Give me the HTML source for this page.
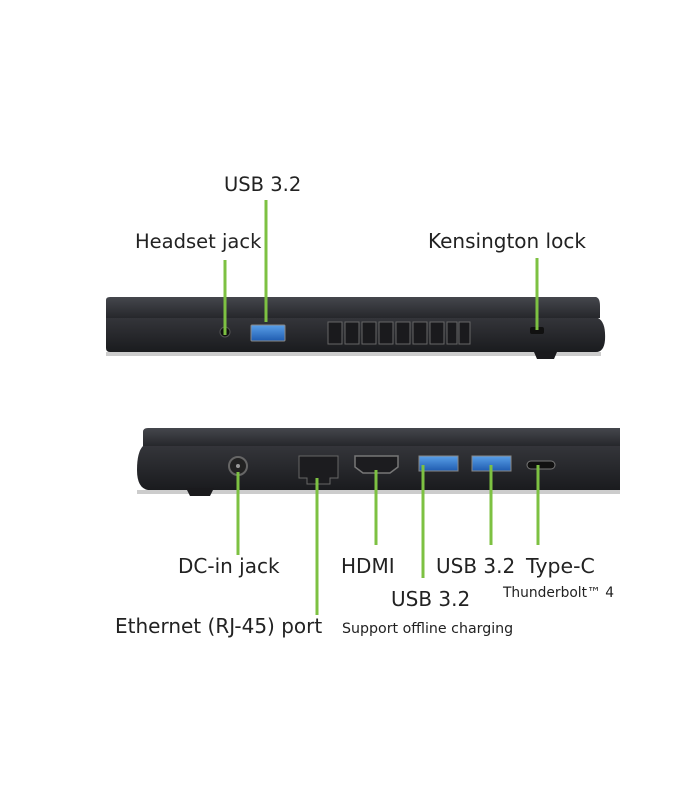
<!DOCTYPE html>
<html><head><meta charset="utf-8"><style>
html,body{margin:0;padding:0;background:#fff;width:700px;height:800px;overflow:hidden}
text{font-family:"DejaVu Sans","Liberation Sans",sans-serif;fill:#222}
</style></head><body>
<svg width="700" height="800" viewBox="0 0 700 800">
<defs>
<linearGradient id="lid" x1="0" y1="0" x2="0" y2="1"><stop offset="0" stop-color="#45474d"/><stop offset="1" stop-color="#26272b"/></linearGradient>
<linearGradient id="base" x1="0" y1="0" x2="0" y2="1"><stop offset="0" stop-color="#34353a"/><stop offset="1" stop-color="#1a1b1e"/></linearGradient>
<linearGradient id="usb" x1="0" y1="0" x2="0" y2="1"><stop offset="0" stop-color="#5aa0e8"/><stop offset="1" stop-color="#1f5cb0"/></linearGradient>
</defs>
<!-- top laptop -->
<path d="M106 300 Q106 297 110 297 L596 297 Q600 298 600 306 L600 318 L106 318 Z" fill="url(#lid)"/>
<path d="M106 318 L598 318 Q606 322 605 340 Q604 352 596 352 L110 352 Q106 352 106 348 Z" fill="url(#base)"/>
<rect x="106" y="352" width="495" height="4" fill="#ccc"/>
<path d="M534 352 L557 352 L554 359 L537 359 Z" fill="#1a1a1d"/>
<circle cx="225" cy="332" r="5" fill="#111" stroke="#555"/>
<rect x="251" y="325" width="34" height="16" rx="1" fill="url(#usb)" stroke="#888"/>
<g fill="#1a1a1d" stroke="#666" stroke-width="1">
<rect x="328" y="322" width="14" height="22"/><rect x="345" y="322" width="14" height="22"/><rect x="362" y="322" width="14" height="22"/><rect x="379" y="322" width="14" height="22"/><rect x="396" y="322" width="14" height="22"/><rect x="413" y="322" width="14" height="22"/><rect x="430" y="322" width="14" height="22"/><rect x="447" y="322" width="10" height="22"/><rect x="459" y="322" width="11" height="22"/>
</g>
<rect x="530" y="327" width="14" height="7" rx="2" fill="#111"/>
<g stroke="#7dc142" stroke-width="3">
<line x1="225" y1="260" x2="225" y2="335"/>
<line x1="266" y1="200" x2="266" y2="322"/>
<line x1="537" y1="258" x2="537" y2="330"/>
</g>
<text x="224" y="191" font-size="19.5">USB 3.2</text>
<text x="135" y="248" font-size="19.5">Headset jack</text>
<text x="428" y="248" font-size="20">Kensington lock</text>
<!-- bottom laptop -->
<path d="M143 432 Q143 428 148 428 L620 428 L620 446 L143 446 Z" fill="url(#lid)"/>
<path d="M143 446 L620 446 L620 490 L148 490 Q137 488 137 470 Q137 452 143 446 Z" fill="url(#base)"/>
<rect x="137" y="490" width="483" height="4" fill="#ccc"/>
<path d="M186 488 L214 488 L210 496 L190 496 Z" fill="#1a1a1d"/>
<circle cx="238" cy="466" r="9" fill="#222" stroke="#666" stroke-width="2"/>
<circle cx="238" cy="466" r="2" fill="#999"/>
<path d="M299 456 L338 456 L338 478 L330 478 L330 484 L307 484 L307 478 L299 478 Z" fill="#1c1c1f" stroke="#666"/>
<path d="M355 456 L398 456 L398 467 L390 473 L363 473 L355 467 Z" fill="#1c1c1f" stroke="#777" stroke-width="1.5"/>
<rect x="419" y="456" width="39" height="15" fill="url(#usb)" stroke="#888"/>
<rect x="472" y="456" width="39" height="15" fill="url(#usb)" stroke="#888"/>
<rect x="527" y="461" width="28" height="8" rx="4" fill="#111" stroke="#777"/>
<g stroke="#7dc142" stroke-width="3">
<line x1="238" y1="472" x2="238" y2="555"/>
<line x1="317" y1="478" x2="317" y2="615"/>
<line x1="376" y1="470" x2="376" y2="545"/>
<line x1="423" y1="465" x2="423" y2="578"/>
<line x1="491" y1="465" x2="491" y2="545"/>
<line x1="538" y1="465" x2="538" y2="545"/>
</g>
<text x="178" y="573" font-size="20">DC-in jack</text>
<text x="341" y="573" font-size="20">HDMI</text>
<text x="436" y="573" font-size="20">USB 3.2</text>
<text x="526" y="573" font-size="20.5">Type-C</text>
<text x="503" y="597" font-size="13.8">Thunderbolt™ 4</text>
<text x="391" y="606" font-size="20">USB 3.2</text>
<text x="115" y="633" font-size="20">Ethernet (RJ-45) port</text>
<text x="342" y="633" font-size="14.2">Support offline charging</text>
</svg>
</body></html>
